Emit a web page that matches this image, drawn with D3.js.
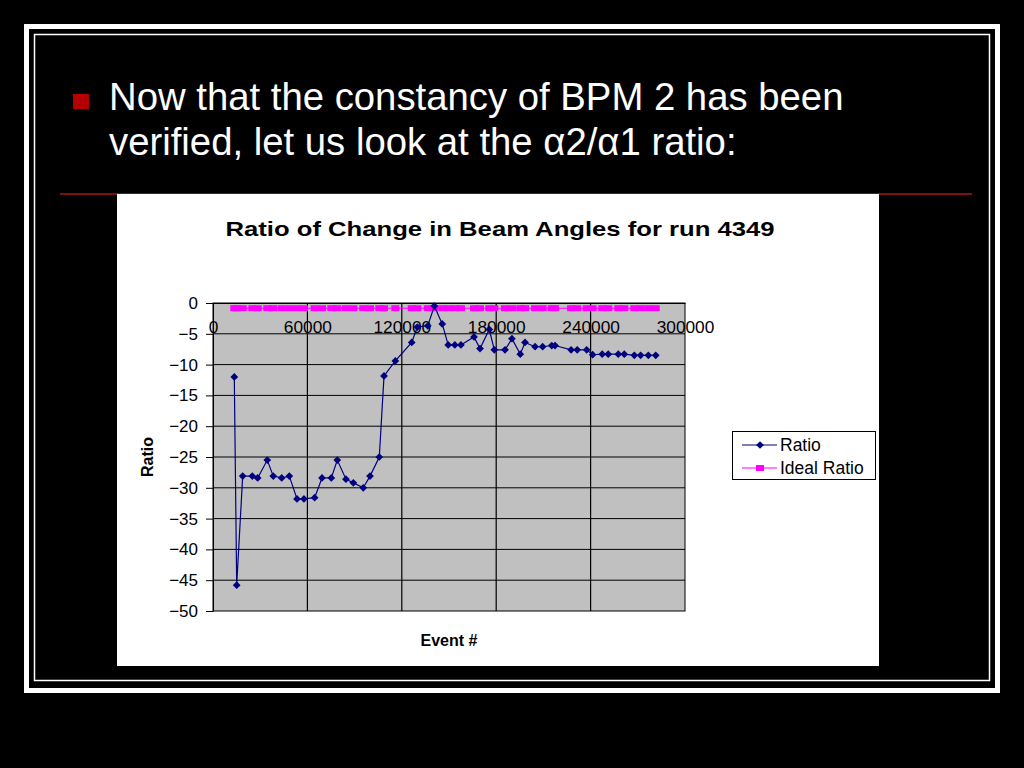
<!DOCTYPE html>
<html>
<head>
<meta charset="utf-8">
<script src="https://cdn.jsdelivr.net/npm/d3@7"></script>
<style>
  html, body { margin: 0; padding: 0; background: #000; }
  svg { display: block; }
  text { font-family: "Liberation Sans", Arial, sans-serif; }
</style>
</head>
<body>
<svg id="slide" width="1024" height="768"></svg>
<script>
// ---- data ----
const eventN = [13540, 15060, 18870, 25000, 28400, 34500, 38300, 43660, 48500, 53400,
  57800, 64600, 69300, 75200, 79000, 84500, 89200, 95500, 99800, 105700,
  108700, 115900, 126300, 129900, 136500, 140700, 145700, 149500, 153700, 157600,
  165900, 169700, 175600, 178800, 185600, 190000, 195300, 198300, 204700, 209500,
  215300, 217400, 227600, 231500, 237500, 241300, 247400, 251200, 257600, 261400,
  267800, 271800, 276700, 281400];
const ratio = [-12.0, -45.8, -28.1, -28.1, -28.4, -25.5, -28.1, -28.4, -28.1, -31.8,
  -31.8, -31.6, -28.4, -28.4, -25.5, -28.6, -29.2, -30.0, -28.1, -25.0,
  -11.85, -9.4, -6.4, -3.9, -3.7, -0.5, -3.4, -6.8, -6.8, -6.8,
  -5.5, -7.4, -4.3, -7.6, -7.6, -5.8, -8.3, -6.4, -7.1, -7.1,
  -6.9, -6.9, -7.6, -7.6, -7.6, -8.4, -8.3, -8.3, -8.3, -8.3,
  -8.5, -8.5, -8.5, -8.5];
const idealRatio = eventN.map(() => -0.85);
const xTicks = [0, 60000, 120000, 180000, 240000, 300000];
const yTicks = [0, -5, -10, -15, -20, -25, -30, -35, -40, -45, -50];
const seriesNames = ["Ratio", "Ideal Ratio"];
const chartTitle = "Ratio of Change in Beam Angles for run 4349";
const bulletLines = ["Now that the constancy of BPM 2 has been", "verified, let us look at the α2/α1 ratio:"];

const svg = d3.select("#slide");

// ---- slide frame ----
svg.append("rect").attr("x", 0).attr("y", 0).attr("width", 1024).attr("height", 768).attr("fill", "#000");
svg.append("rect").attr("x", 26.5).attr("y", 26.5).attr("width", 971).attr("height", 664)
  .attr("fill", "none").attr("stroke", "#fff").attr("stroke-width", 5);
svg.append("rect").attr("x", 34.5).attr("y", 34.5).attr("width", 955).attr("height", 646)
  .attr("fill", "none").attr("stroke", "#fff").attr("stroke-width", 1.5);
svg.append("line").attr("x1", 60).attr("x2", 972).attr("y1", 194).attr("y2", 194)
  .attr("stroke", "#7a1212").attr("stroke-width", 2);

// bullet
svg.append("rect").attr("x", 73).attr("y", 94).attr("width", 16).attr("height", 15).attr("fill", "#b30000");
svg.selectAll("text.bullet").data(bulletLines).join("text")
  .attr("class", "bullet")
  .attr("x", 109).attr("y", (d, i) => 110 + i * 45)
  .attr("fill", "#fff").attr("font-size", 38.3).text(d => d);

// ---- chart box ----
svg.append("rect").attr("x", 117).attr("y", 194).attr("width", 762).attr("height", 472).attr("fill", "#fff");

const x = d3.scaleLinear().domain([0, 300000]).range([213, 685]);
const y = d3.scaleLinear().domain([-50, 0]).range([611, 303]);

// plot area
svg.append("rect").attr("x", x(0)).attr("y", y(0)).attr("width", x(300000) - x(0)).attr("height", y(-50) - y(0))
  .attr("fill", "#c0c0c0").attr("stroke", "#000").attr("stroke-width", 1);

// gridlines
svg.append("g").selectAll("line").data(yTicks.filter(v => v < 0 && v > -50)).join("line")
  .attr("x1", x(0)).attr("x2", x(300000)).attr("y1", d => y(d)).attr("y2", d => y(d))
  .attr("stroke", "#000").attr("stroke-width", 1);
svg.append("g").selectAll("line").data(xTicks.filter(v => v > 0 && v < 300000)).join("line")
  .attr("x1", d => x(d)).attr("x2", d => x(d)).attr("y1", y(0)).attr("y2", y(-50))
  .attr("stroke", "#000").attr("stroke-width", 1.2);

// y axis
const yAxis = svg.append("g").attr("transform", `translate(${x(0)},0)`)
  .call(d3.axisLeft(y).tickValues(yTicks).tickSize(7).tickSizeOuter(0).tickPadding(8).tickFormat(d3.format("d")));
yAxis.select(".domain").attr("stroke", "#000");
yAxis.selectAll("text").attr("font-size", 17).attr("fill", "#000")
  .attr("font-family", "'Liberation Sans', Arial, sans-serif");

// x axis at y=0
const xAxis = svg.append("g").attr("transform", `translate(0,${y(0)})`)
  .call(d3.axisBottom(x).tickValues(xTicks).tickSize(0).tickSizeOuter(0).tickPadding(18).tickFormat(d3.format("d")));
xAxis.select(".domain").attr("stroke", "#000").attr("stroke-width", 1.2);
xAxis.selectAll("text").attr("font-size", 17.3).attr("fill", "#000")
  .attr("font-family", "'Liberation Sans', Arial, sans-serif");

// ---- series ----
const line = d3.line().x((d, i) => x(eventN[i])).y(d => y(d));
svg.append("path").datum(idealRatio).attr("d", line).attr("fill", "none")
  .attr("stroke", "#ff00ff").attr("stroke-width", 1);
svg.append("g").selectAll("rect").data(idealRatio).join("rect")
  .attr("x", (d, i) => x(eventN[i]) - 4).attr("y", d => y(d) - 3)
  .attr("width", 8).attr("height", 6).attr("fill", "#ff00ff");

svg.append("path").datum(ratio).attr("d", line).attr("fill", "none")
  .attr("stroke", "#000080").attr("stroke-width", 1.2);
const diamond = d3.symbol().type(d3.symbolSquare).size(30);
svg.append("g").selectAll("path").data(ratio).join("path")
  .attr("d", diamond)
  .attr("transform", (d, i) => `translate(${x(eventN[i])},${y(d)}) rotate(45)`)
  .attr("fill", "#000080");

// ---- titles ----
svg.append("text").attr("x", 500).attr("y", 236).attr("text-anchor", "middle")
  .attr("font-size", 21).attr("font-weight", "bold").attr("fill", "#000").text(chartTitle)
  .attr("textLength", 549).attr("lengthAdjust", "spacingAndGlyphs");
svg.append("text").attr("x", 449).attr("y", 646).attr("text-anchor", "middle")
  .attr("font-size", 16).attr("font-weight", "bold").attr("fill", "#000").text("Event #");
svg.append("text").attr("transform", "translate(153,457) rotate(-90)").attr("text-anchor", "middle")
  .attr("font-size", 16).attr("font-weight", "bold").attr("fill", "#000").text("Ratio");

// ---- legend ----
const lg = svg.append("g");
lg.append("rect").attr("x", 732.5).attr("y", 431.5).attr("width", 143).attr("height", 48)
  .attr("fill", "#fff").attr("stroke", "#000").attr("stroke-width", 1);
const legendColors = ["#000080", "#ff00ff"];
seriesNames.forEach((name, i) => {
  const ly = 445 + i * 23;
  lg.append("line").attr("x1", 742).attr("x2", 777).attr("y1", ly).attr("y2", ly)
    .attr("stroke", legendColors[i]).attr("stroke-width", 1);
  if (i === 0) {
    lg.append("path").attr("d", diamond).attr("transform", `translate(760,${ly}) rotate(45)`).attr("fill", legendColors[i]);
  } else {
    lg.append("rect").attr("x", 756).attr("y", ly - 3).attr("width", 8).attr("height", 6).attr("fill", legendColors[i]);
  }
  lg.append("text").attr("x", 780).attr("y", ly + 6).attr("font-size", 17.5).attr("fill", "#000").text(name);
});
</script>
</body>
</html>
